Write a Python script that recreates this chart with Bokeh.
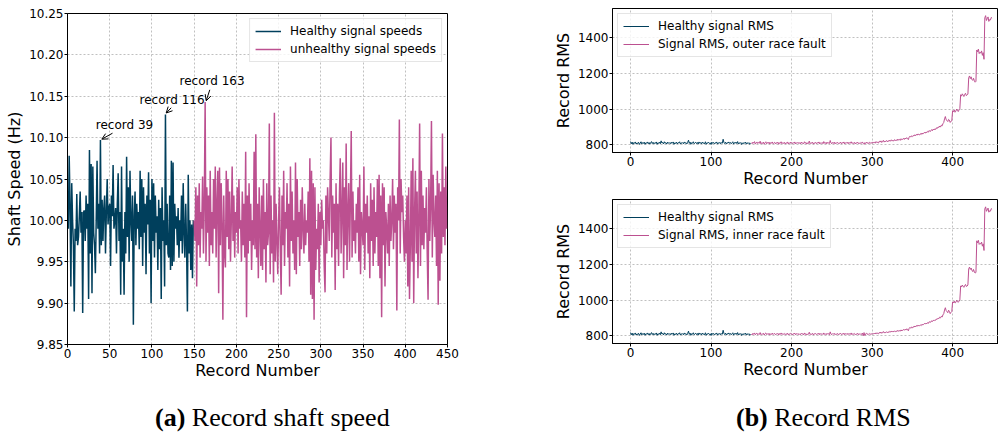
from bokeh.plotting import figure
from bokeh.layouts import row, column
from bokeh.models import Range1d, FixedTicker, Label, Arrow, OpenHead, NumeralTickFormatter, Div
from bokeh.embed import file_html
from bokeh.resources import INLINE

# ---------------- data ----------------
speed_healthy = [
    10.03, 9.99, 10.078, 10.02, 9.92, 10.045, 10.00, 9.97, 9.89, 9.99,
    9.975, 10.032, 9.97, 9.98, 10.005, 10.035, 9.985, 10.01, 9.888, 10.01,
    10.012, 9.975, 10.03, 9.99, 10.02, 9.905, 10.085, 9.96, 10.068, 9.912,
    10.065, 9.985, 9.97, 9.936, 10.0, 10.072, 9.99, 10.02, 9.96, 10.097,
    9.97, 10.025, 9.975, 10.015, 10.03, 9.96, 10.01, 10.05, 9.995, 10.015,
    10.02, 9.945, 10.03, 10.005, 10.067, 9.99, 10.0, 10.015, 9.96, 10.02,
    10.057, 9.975, 10.01, 9.91, 10.065, 9.95, 9.99, 9.91, 10.01, 9.96,
    10.077, 9.98, 10.04, 9.95, 10.06, 10.0, 9.975, 10.03, 9.874, 10.005,
    10.035, 9.97, 10.02, 9.99, 10.01, 9.965, 10.06, 9.98, 10.05, 9.945,
    10.04, 9.985, 10.02, 9.935, 10.03, 9.995, 10.058, 9.96, 10.025, 9.90,
    10.05, 9.975, 10.045, 9.955, 10.03, 9.985, 10.005, 9.94, 10.025, 9.965,
    10.015, 9.905, 10.04, 9.975, 10.0, 9.92, 10.128, 9.97, 10.02, 9.96,
    9.955, 10.03, 9.94, 10.072, 9.945, 10.07, 9.95, 10.02, 9.99, 10.005,
    9.97, 10.015, 9.955, 10.0, 9.975, 10.03, 9.96, 10.045, 9.985, 9.955,
    10.02, 9.97, 9.89, 10.055, 9.96, 10.0, 9.94, 9.995, 9.93, 10.0,
]
speed_unhealthy = [
    10.0, 9.975, 10.04, 9.92, 10.03, 9.97, 10.045, 9.955, 10.01, 9.99,
    10.053, 9.96, 10.02, 10.143, 9.95, 10.04, 9.985, 10.03, 9.945, 10.06,
    9.97, 10.01, 9.96, 10.05, 9.99, 10.065, 9.955, 10.02, 10.06, 9.912,
    10.064, 9.97, 10.045, 9.995, 9.88, 10.03, 9.96, 9.943, 10.06, 9.98,
    10.05, 9.965, 10.035, 9.95, 10.0, 10.065, 9.975, 10.03, 9.955, 10.01,
    9.985, 10.04, 9.96, 10.05, 9.99, 10.0, 9.95, 10.035, 9.97, 10.02,
    9.955, 10.083, 9.883, 10.03, 9.96, 10.045, 9.975, 10.02, 9.94, 10.0,
    9.97, 10.083, 9.965, 10.104, 9.955, 10.02, 9.93, 10.04, 9.99, 9.945,
    10.03, 9.94, 10.05, 9.965, 10.01, 9.925, 10.045, 9.97, 9.985, 10.117,
    9.935, 10.03, 9.96, 10.0, 9.925, 10.13, 9.95, 10.02, 9.975, 9.935,
    10.0, 10.04, 9.965, 9.91, 10.03, 9.97, 10.06, 9.945, 10.01, 9.99,
    10.045, 9.955, 10.02, 9.92, 10.065, 9.975, 10.035, 9.96, 10.0, 9.94,
    10.07, 9.935, 10.05, 9.98, 10.01, 9.945, 10.025, 9.965, 10.04, 9.99,
    9.96, 10.02, 9.97, 10.0, 9.985, 10.035, 9.95, 10.075, 9.91, 10.06,
    9.905, 10.045, 9.88, 10.04, 9.94, 9.99, 9.965, 10.02, 9.925, 10.01,
    9.97, 10.025, 9.99, 10.0, 9.945, 9.913, 10.03, 9.96, 10.04, 10.005,
    9.975, 10.05, 10.10, 9.955, 10.03, 9.985, 10.02, 9.916, 10.045, 9.965,
    10.02, 9.945, 10.03, 10.075, 9.96, 10.01, 10.07, 9.93, 10.04, 9.97,
    10.093, 9.94, 10.01, 10.045, 9.95, 10.025, 10.108, 9.955, 10.035, 9.975,
    10.0, 9.96, 10.02, 9.985, 10.04, 9.95, 10.055, 9.935, 10.01, 9.99,
    9.97, 10.065, 9.94, 10.02, 9.985, 10.03, 9.96, 10.005, 9.93, 10.045,
    9.975, 10.025, 9.945, 10.04, 9.96, 10.01, 9.98, 10.05, 9.945, 10.055,
    9.93, 10.03, 9.883, 10.045, 9.97, 10.04, 9.92, 10.01, 9.99, 9.96,
    10.02, 9.945, 10.03, 9.975, 10.0, 10.05, 9.965, 10.03, 9.985, 10.02,
    9.891, 10.04, 10.0, 10.122, 9.96, 10.05, 10.01, 10.03, 9.98, 9.95,
    10.0, 9.96, 10.03, 9.92, 10.04, 9.905, 9.97, 10.06, 9.95, 10.075,
    9.90, 10.01, 10.06, 9.96, 10.035, 9.93, 10.0, 10.117, 9.945, 10.06,
    9.97, 10.03, 9.965, 10.015, 9.985, 10.04, 9.96, 9.904, 10.05, 9.975,
    10.02, 10.12, 9.955, 10.055, 10.0, 9.98, 10.03, 9.945, 10.06, 9.898,
    10.045, 9.927, 10.035, 9.96, 10.105, 9.98, 10.04, 9.97, 10.065, 9.99,
]

rms_healthy = [
    818, 806, 815, 803, 812, 809, 816, 804, 811, 807,
    814, 802, 810, 817, 805, 812, 808, 815, 803, 811,
    809, 816, 806, 813, 804, 812, 818, 807, 814, 805,
    811, 809, 816, 803, 812, 808, 815, 806, 822, 810,
    813, 805, 817, 809, 812, 804, 815, 810, 807, 813,
    806, 814, 809, 816, 803, 811, 808, 815, 805, 812,
    810, 817, 804, 811, 808, 813, 806, 816, 809, 812,
    805, 814, 826, 808, 815, 803, 812, 809, 817, 806,
    811, 814, 807, 813, 804, 816, 809, 812, 805, 815,
    808, 811, 806, 817, 803, 812, 809, 814, 807, 811,
    802, 815, 808, 813, 806, 812, 809, 816, 804, 811,
    808, 814, 806, 812, 809, 831, 813, 807, 815, 805,
    812, 809, 816, 808, 813, 806, 811, 817, 804, 812,
    809, 815, 807, 818, 805, 811, 808, 813, 802, 810,
    806, 813, 808, 815, 804, 811, 807, 812, 803, 809,
]
rms_outer = [
    812, 806, 815, 809, 818, 804, 811, 816, 807, 813,
    809, 820, 805, 812, 808, 815, 803, 811, 817, 806,
    813, 808, 815, 804, 812, 809, 816, 806, 811, 814,
    805, 812, 808, 815, 803, 811, 809, 817, 806, 812,
    808, 814, 805, 811, 809, 816, 804, 812, 807, 815,
    810, 806, 813, 808, 816, 805, 811, 809, 814, 807,
    812, 805, 815, 808, 811, 806, 817, 809, 813, 804,
    811, 808, 821, 806, 812, 809, 815, 804, 811, 808,
    814, 806, 812, 809, 816, 805, 811, 808, 813, 806,
    818, 809, 812, 805, 815, 808, 811, 807, 824, 810,
    806, 813, 808, 815, 805, 812, 809, 814, 807, 811,
    808, 815, 806, 812, 809, 816, 805, 811, 813, 808,
    815, 806, 812, 809, 817, 807, 811, 808, 814, 805,
    812, 809, 815, 807, 811, 806, 813, 809, 816, 808,
    803, 812, 807, 815, 809, 813, 806, 814, 810, 812,
    808, 815, 811, 816, 809, 818, 812, 814, 810, 820,
    816, 822, 813, 819, 825, 815, 821, 818, 824, 817,
    823, 819, 826, 820, 828, 822, 825, 821, 829, 824,
    827, 823, 832, 826, 830, 825, 834, 828, 831, 836,
    830, 838, 833, 840, 835, 829, 842, 848, 843, 850,
    846, 852, 849, 856, 851, 858, 854, 861, 857, 855,
    862, 858, 866, 860, 864, 870, 865, 872, 868, 875,
    871, 880, 874, 878, 885, 879, 888, 883, 890, 886,
    895, 892, 900, 897, 905, 899, 910, 906, 918, 925,
    945, 958, 940, 936, 930, 942, 938, 925, 932, 935,
    990, 985, 995, 982, 988, 1000, 992, 986, 995, 1002,
    1080, 1072, 1085, 1078, 1070, 1082, 1088, 1075, 1079, 1083,
    1175, 1185, 1170, 1180, 1165, 1160, 1172, 1158, 1150, 1155,
    1330, 1320, 1335, 1310, 1318, 1312, 1325, 1300, 1315, 1278,
    1510, 1522, 1495, 1505, 1515, 1490, 1500, 1498, 1512, 1508,
]
rms_inner = [
    810, 805, 814, 808, 816, 806, 812, 815, 806, 811,
    808, 818, 806, 811, 809, 814, 804, 812, 816, 807,
    812, 807, 814, 805, 811, 808, 815, 807, 812, 813,
    806, 811, 809, 814, 804, 812, 808, 816, 807, 811,
    809, 813, 806, 812, 808, 815, 805, 811, 808, 814,
    811, 805, 812, 809, 815, 806, 812, 808, 813, 806,
    811, 806, 814, 809, 812, 805, 816, 808, 812, 805,
    810, 809, 820, 807, 811, 808, 814, 805, 812, 809,
    813, 807, 811, 808, 815, 806, 812, 809, 812, 807,
    816, 808, 811, 806, 814, 809, 812, 806, 822, 809,
    807, 812, 809, 814, 806, 811, 808, 813, 806, 812,
    809, 814, 807, 811, 808, 815, 806, 812, 812, 807,
    814, 807, 811, 808, 816, 806, 812, 809, 813, 806,
    811, 808, 814, 806, 812, 807, 812, 808, 815, 800,
    818, 802, 811, 814, 808, 812, 807, 813, 809, 811,
    809, 814, 810, 815, 810, 817, 811, 815, 811, 819,
    815, 821, 814, 818, 824, 816, 820, 817, 823, 818,
    822, 818, 825, 821, 827, 821, 826, 822, 828, 823,
    826, 824, 831, 825, 829, 826, 833, 827, 832, 835,
    831, 837, 832, 839, 836, 828, 841, 847, 842, 849,
    845, 851, 848, 855, 850, 857, 853, 860, 856, 856,
    861, 857, 865, 861, 863, 869, 866, 871, 867, 874,
    870, 879, 875, 877, 884, 880, 887, 884, 889, 887,
    894, 893, 899, 896, 904, 900, 909, 905, 917, 924,
    944, 957, 941, 935, 929, 943, 937, 924, 931, 936,
    989, 984, 994, 983, 987, 999, 991, 987, 994, 1001,
    1079, 1073, 1084, 1077, 1071, 1081, 1087, 1076, 1078, 1084,
    1174, 1184, 1171, 1179, 1166, 1159, 1171, 1157, 1151, 1154,
    1331, 1319, 1334, 1311, 1317, 1313, 1324, 1301, 1314, 1277,
    1509, 1521, 1496, 1504, 1514, 1491, 1499, 1497, 1511, 1507,
]

speed_xticks = [0, 50, 100, 150, 200, 250, 300, 350, 400, 450]
speed_yticks = [9.85, 9.90, 9.95, 10.00, 10.05, 10.10, 10.15, 10.20, 10.25]
rms_xticks = [0, 100, 200, 300, 400]
rms_yticks = [800, 1000, 1200, 1400]

HEALTHY = "#003f5c"
FAULT = "#bc5090"
FONT = "DejaVu Sans"

# ---------------- geometry (global pixel frames) ----------------
FR1 = (67, 13, 447, 344)
XR1 = (0, 450)
YR1 = (9.85, 10.25)
XR2 = (-22.4, 457)
YR2 = (757, 1562)


def p2d(gx, gy, fr, xr, yr):
    l, t, r, b = fr
    x = xr[0] + (gx - l) / (r - l) * (xr[1] - xr[0])
    y = yr[1] - (gy - t) / (b - t) * (yr[1] - yr[0])
    return x, y


def style(p, xticks, yticks):
    p.outline_line_color = "black"
    p.outline_line_width = 1
    p.background_fill_color = "white"
    p.border_fill_color = "white"
    p.xaxis.ticker = FixedTicker(ticks=xticks)
    p.yaxis.ticker = FixedTicker(ticks=yticks)
    for ax in (p.xaxis[0], p.yaxis[0]):
        ax.axis_line_color = "black"
        ax.axis_line_width = 1
        ax.major_tick_line_color = "black"
        ax.major_tick_out = 3
        ax.major_tick_in = 0
        ax.minor_tick_line_color = None
        ax.major_label_text_font = FONT
        ax.major_label_text_font_size = "12px"
        ax.major_label_text_color = "black"
        ax.axis_label_text_font = FONT
        ax.axis_label_text_font_size = "16px"
        ax.axis_label_text_font_style = "normal"
        ax.axis_label_text_color = "black"
        ax.axis_label_standoff = 0
    p.xaxis.major_label_standoff = 1
    p.yaxis.major_label_standoff = 1
    p.yaxis.axis_label_standoff = 2
    p.grid.grid_line_color = "#b0b0b0"
    p.grid.grid_line_dash = "2 2"
    p.grid.grid_line_width = 0.8


def style_legend(p, loc):
    lg = p.legend[0]
    lg.location = loc
    lg.label_text_font = FONT
    lg.label_text_font_size = "12px"
    lg.label_text_color = "black"
    lg.label_height = 14
    lg.glyph_height = 14
    lg.glyph_width = 26
    lg.spacing = 4
    lg.padding = 5
    lg.margin = 5
    lg.label_standoff = 9
    lg.border_line_color = "#cccccc"
    lg.border_line_width = 1
    lg.background_fill_alpha = 0.8


def caption(width, pad_left, tag, text):
    html = ('<div style="font-family:\'Liberation Serif\',serif; font-size:26px; '
            'line-height:30px; padding-left:%dpx; padding-top:13px; color:black; '
            'white-space:nowrap;"><b>%s</b> %s</div>' % (pad_left, tag, text))
    return Div(text=html, width=width, height=46, margin=0)


# ---------------- (a) shaft speed ----------------
LEFT_W, TOP_H = 480, 390
p1 = figure(width=LEFT_W, height=TOP_H, output_backend="svg", toolbar_location=None,
            x_range=Range1d(*XR1), y_range=Range1d(*YR1),
            min_border_left=FR1[0], min_border_right=LEFT_W - FR1[2],
            min_border_top=FR1[1], min_border_bottom=TOP_H - FR1[3])
x_h = list(range(len(speed_healthy)))
x_u = list(range(len(speed_healthy), len(speed_healthy) + len(speed_unhealthy)))
p1.line(x_h, speed_healthy, color=HEALTHY, line_width=1.5, legend_label="Healthy signal speeds")
p1.line(x_u, speed_unhealthy, color=FAULT, line_width=1.5, legend_label="unhealthy signal speeds")
style(p1, speed_xticks, speed_yticks)
p1.yaxis.formatter = NumeralTickFormatter(format="0.00")
p1.xaxis.axis_label = "Record Number"
p1.yaxis.axis_label = "Shaft Speed (Hz)"
style_legend(p1, "top_right")

for (tx, ty, txt, ax0, ay0, ax1, ay1) in [
    (95.3, 124.5, "record 39", 112, 132.7, 101.3, 138.7),
    (139, 99, "record 116", 170.7, 107.3, 165.7, 112.5),
    (179, 80.5, "record 163", 209.3, 89.3, 205.7, 100.3),
]:
    x0, y0 = p2d(tx, ty, FR1, XR1, YR1)
    p1.add_layout(Label(x=x0, y=y0, text=txt, text_font=FONT, text_font_size="12px",
                        text_baseline="middle", text_color="black"))
    xs, ys = p2d(ax0, ay0, FR1, XR1, YR1)
    xe, ye = p2d(ax1, ay1, FR1, XR1, YR1)
    p1.add_layout(Arrow(end=OpenHead(size=6, line_width=1, line_color="black"),
                        x_start=xs, y_start=ys, x_end=xe, y_end=ye,
                        line_width=1, line_color="black"))

cap1 = caption(LEFT_W, 155, "(a)", "Record shaft speed")

# ---------------- (b) RMS ----------------
RIGHT_W = 998 - LEFT_W
FR2 = (612, 8, 998, 152)
FR3 = (612, 199, 998, 343)
H2, H3 = 190, 200


def rms_fig(height, fr, top_off, fault_vals, fault_label):
    p = figure(width=RIGHT_W, height=height, output_backend="svg", toolbar_location=None,
               x_range=Range1d(*XR2), y_range=Range1d(*YR2),
               min_border_left=fr[0] - LEFT_W, min_border_right=0,
               min_border_top=fr[1] - top_off, min_border_bottom=top_off + height - fr[3])
    p.line(x_h, rms_healthy, color=HEALTHY, line_width=1, legend_label="Healthy signal RMS")
    p.line(x_u, fault_vals, color=FAULT, line_width=1, legend_label=fault_label)
    style(p, rms_xticks, rms_yticks)
    p.xaxis.axis_label = "Record Number"
    p.yaxis.axis_label = "Record RMS"
    style_legend(p, "top_left")
    return p


p2 = rms_fig(H2, FR2, 0, rms_outer, "Signal RMS, outer race fault")
p3 = rms_fig(H3, FR3, H2, rms_inner, "Signal RMS, inner race fault")
cap2 = caption(RIGHT_W, 736 - LEFT_W, "(b)", "Record RMS")

left = column(p1, cap1, spacing=0)
right = column(p2, p3, cap2, spacing=0)
layout = row(left, right, spacing=0)
open("out.html", "w").write(file_html(layout, INLINE))
